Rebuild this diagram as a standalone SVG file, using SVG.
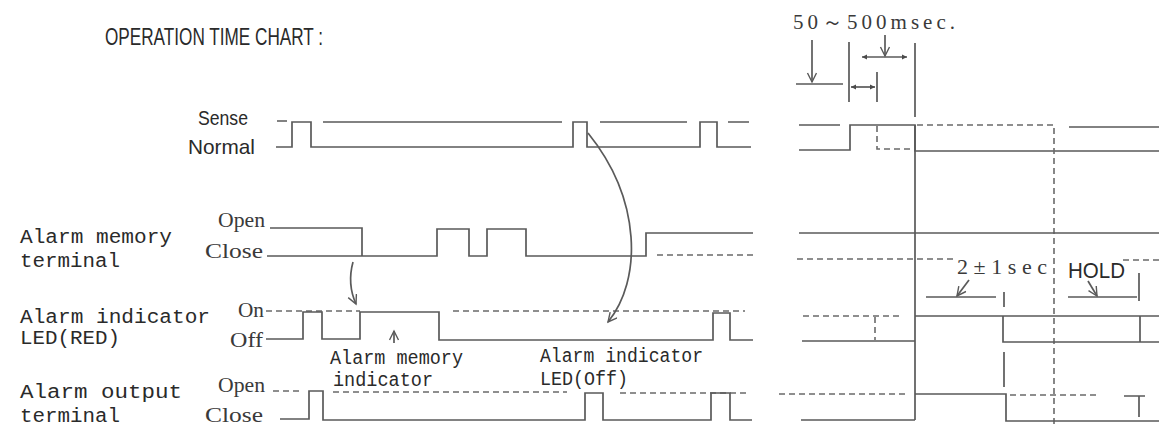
<svg xmlns="http://www.w3.org/2000/svg" width="1159" height="435" viewBox="0 0 1159 435">
<defs>
<style>
.s{fill:none;stroke:#5a5a5a;stroke-width:1.7}
.d{fill:none;stroke:#6a6a6a;stroke-width:1.6;stroke-dasharray:6 4}
.mono{font-family:"Liberation Mono","DejaVu Sans Mono",monospace;font-size:20px;fill:#2a2a2a}
.sans{font-family:"Liberation Sans","DejaVu Sans",sans-serif;font-size:21px;fill:#2a2a2a}
.serif{font-family:"Liberation Serif","DejaVu Serif",serif;font-size:21px;fill:#3a3a3a}
</style>
<marker id="ah" markerWidth="12" markerHeight="12" refX="10" refY="5" orient="auto" markerUnits="userSpaceOnUse">
<path d="M1,0.5 L10,5 L1,9.5" fill="none" stroke="#5a5a5a" stroke-width="1.4"/>
</marker>
<marker id="sm" markerWidth="6" markerHeight="6" refX="5" refY="3" orient="auto-start-reverse" markerUnits="userSpaceOnUse">
<path d="M0,0.5 L5,3 L0,5.5 Z" fill="#4a4a4a"/>
</marker>
</defs>
<rect width="1159" height="435" fill="#fff"/>
<text id="title" class="sans" x="105" y="45" style="font-size:24px" textLength="218" lengthAdjust="spacingAndGlyphs">OPERATION TIME CHART :</text>

<g id="sense">
<text class="sans" x="198" y="125" textLength="50" lengthAdjust="spacingAndGlyphs">Sense</text>
<text class="sans" x="188" y="154" textLength="67" lengthAdjust="spacingAndGlyphs">Normal</text>
<path class="s" d="M277,121 H287 M276,147 H292 V122 H311 V147 H573 V122 H587 V147 H700 V122 H717 V147 H751 M323,122 H562 M600,122 H687 M728,122 H749"/>
<path class="s" d="M799,125 H840 M799,150 H850 V125 H915 V151 H1159 M1069,127 H1159"/>
<path class="d" d="M877,126 V149 H913 M917,125 H1054 V425"/>
</g>

<g id="memory">
<text class="mono" x="20" y="243" textLength="152" lengthAdjust="spacingAndGlyphs">Alarm memory</text>
<text class="mono" x="20" y="267" textLength="100" lengthAdjust="spacingAndGlyphs">terminal</text>
<text class="serif" x="218" y="227" textLength="47" lengthAdjust="spacingAndGlyphs">Open</text>
<text class="serif" x="205" y="258" textLength="58" lengthAdjust="spacingAndGlyphs">Close</text>
<path class="s" d="M270,228 H362 V256 M267,256 H437 V229 H469 V256 H487 V229 H526 V256 H646 V233 H753"/>
<path class="d" d="M657,255 H753"/>
<path class="s" d="M799,233 H1159"/>
<path class="d" d="M797,259 H957 M1123,260 H1159"/>
</g>

<g id="led">
<text class="mono" x="20" y="323" textLength="190" lengthAdjust="spacingAndGlyphs">Alarm indicator</text>
<text class="mono" x="20" y="344" textLength="100" lengthAdjust="spacingAndGlyphs">LED(RED)</text>
<text class="serif" x="238" y="317" textLength="26" lengthAdjust="spacingAndGlyphs">On</text>
<text class="serif" x="230" y="347" textLength="33" lengthAdjust="spacingAndGlyphs">Off</text>
<path class="d" d="M266,311 H360 M453,311 H745"/>
<path class="s" d="M266,339 H303 V312 H322 V339 H360 V312 H439 V340 H713 V313 H730 V340 H753"/>
<path class="d" d="M803,316 H901 M875,317 V340"/>
<path class="s" d="M802,341 H915 M915,316 H1159 M1003,316 V342 H1159 M1140,316 V342"/>
</g>

<g id="output">
<text class="mono" x="20" y="398" textLength="162" lengthAdjust="spacingAndGlyphs">Alarm output</text>
<text class="mono" x="20" y="422" textLength="100" lengthAdjust="spacingAndGlyphs">terminal</text>
<text class="serif" x="218" y="392" textLength="47" lengthAdjust="spacingAndGlyphs">Open</text>
<text class="serif" x="205" y="422" textLength="58" lengthAdjust="spacingAndGlyphs">Close</text>
<path class="d" d="M273,391 H300 M333,392 H567 M620,393 H748"/>
<path class="s" d="M280,419 H309 V391 H323 V420 H585 V393 H603 V420 H711 V393 H730 V420 H752"/>
<path class="d" d="M779,394 H908 M1010,395 H1097"/>
<path class="s" d="M801,420 H915 M915,394 H1006 V421 H1159 M1004,352 V387 M1124,396 H1145 M1139,396 V417"/>
</g>

<g id="notes">
<text class="mono" x="330" y="364" textLength="133" lengthAdjust="spacingAndGlyphs">Alarm memory</text>
<text class="mono" x="333" y="386" textLength="100" lengthAdjust="spacingAndGlyphs">indicator</text>
<text class="mono" x="540" y="362" textLength="163" lengthAdjust="spacingAndGlyphs">Alarm indicator</text>
<text class="mono" x="540" y="385" textLength="88" lengthAdjust="spacingAndGlyphs">LED(Off)</text>
<text class="serif" x="793" y="29" textLength="162" lengthAdjust="spacing">50～500msec.</text>
<text class="serif" x="957" y="274" style="font-size:22px" textLength="90" lengthAdjust="spacing">2±1sec</text>
<text class="sans" x="1068" y="278" style="font-size:22px" textLength="57" lengthAdjust="spacingAndGlyphs">HOLD</text>
</g>

<g id="connectors">
<path class="s" d="M915,43 V117 M915,125 V420"/>
<path class="s" d="M812,40 V82" marker-end="url(#ah)"/>
<path class="s" d="M796,84 H843 M849,42 V102 M877,72 V102"/>
<path class="s" d="M851,87 H875" marker-start="url(#sm)" marker-end="url(#sm)"/>
<path class="s" d="M862,57 H907" marker-start="url(#sm)" marker-end="url(#sm)"/>
<path class="s" d="M885,35 V56" marker-end="url(#ah)"/>
<path class="s" d="M969,280 L957,296" marker-end="url(#ah)"/>
<path class="s" d="M926,297 H996 M1004,292 V307"/>
<path class="s" d="M1088,281 L1097,296" marker-end="url(#ah)"/>
<path class="s" d="M1068,297 H1137 M1139,273 V301"/>
<path class="s" d="M353,262 Q347,284 356,304" marker-end="url(#ah)"/>
<path class="s" d="M394,343 V331" marker-end="url(#ah)"/>
<path class="s" d="M588,133 C642,200 642,280 608,322" marker-end="url(#ah)"/>
</g>
</svg>
